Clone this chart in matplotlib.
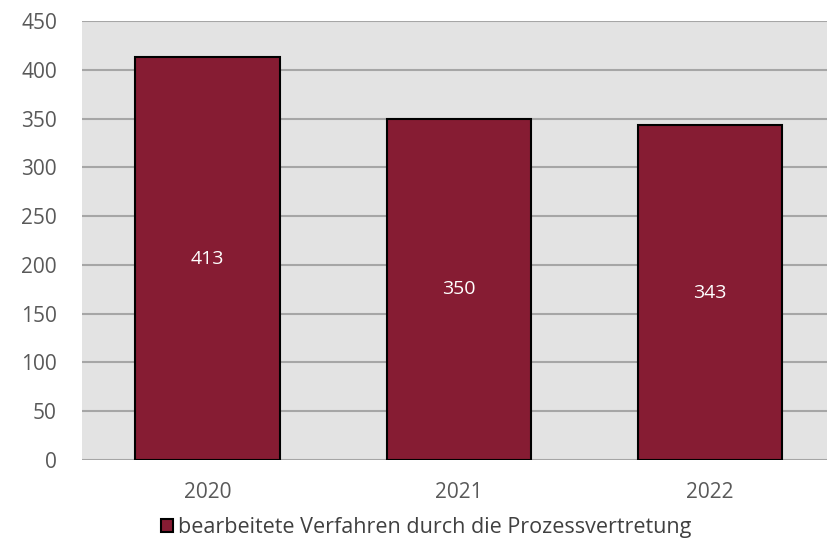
import numpy as np
import matplotlib.pyplot as plt

# data
years = ["2020", "2021", "2022"]
cases = [413, 350, 343]
series_name = "bearbeitete Verfahren durch die Prozessvertretung"

plt.rcParams['font.family'] = ['Open Sans', 'DejaVu Sans']

fig = plt.figure(figsize=(8.28, 5.42), dpi=100)
ax = fig.add_axes([82/828, 1 - 460/542, 1 - 82/828, 439/542])
ax.set_facecolor("#e3e3e3")

x = np.arange(len(years))
bars = ax.bar(x, cases, width=0.575, color="#861c33", edgecolor="black",
              linewidth=1.5, label=series_name, zorder=3)

for b, v in zip(bars, cases):
    ax.text(b.get_x() + b.get_width() / 2, v / 2, str(v), ha="center", va="center",
            color="white", fontsize=14, zorder=4)

ax.set_ylim(0, 450)
ax.set_yticks(np.arange(0, 451, 50))
ax.set_xlim(-0.5, 2.47)
ax.set_xticks(x)
ax.set_xticklabels(years)
ax.yaxis.grid(True, color="#a6a6a6", linewidth=1.5, zorder=0)
ax.set_axisbelow(True)
for s in ax.spines.values():
    s.set_visible(False)
ax.tick_params(axis="both", length=0, labelsize=15, labelcolor="#595959")
ax.tick_params(axis="y", pad=18)
ax.tick_params(axis="x", pad=16)

leg = fig.legend(loc="lower center", bbox_to_anchor=(0.515, -0.02), frameon=False,
                 fontsize=15.5, handlelength=0.55, handleheight=0.55, handletextpad=0.25,
                 borderpad=0.2)
for t in leg.get_texts():
    t.set_color("#404040")

fig.savefig("out.png", dpi=100)
